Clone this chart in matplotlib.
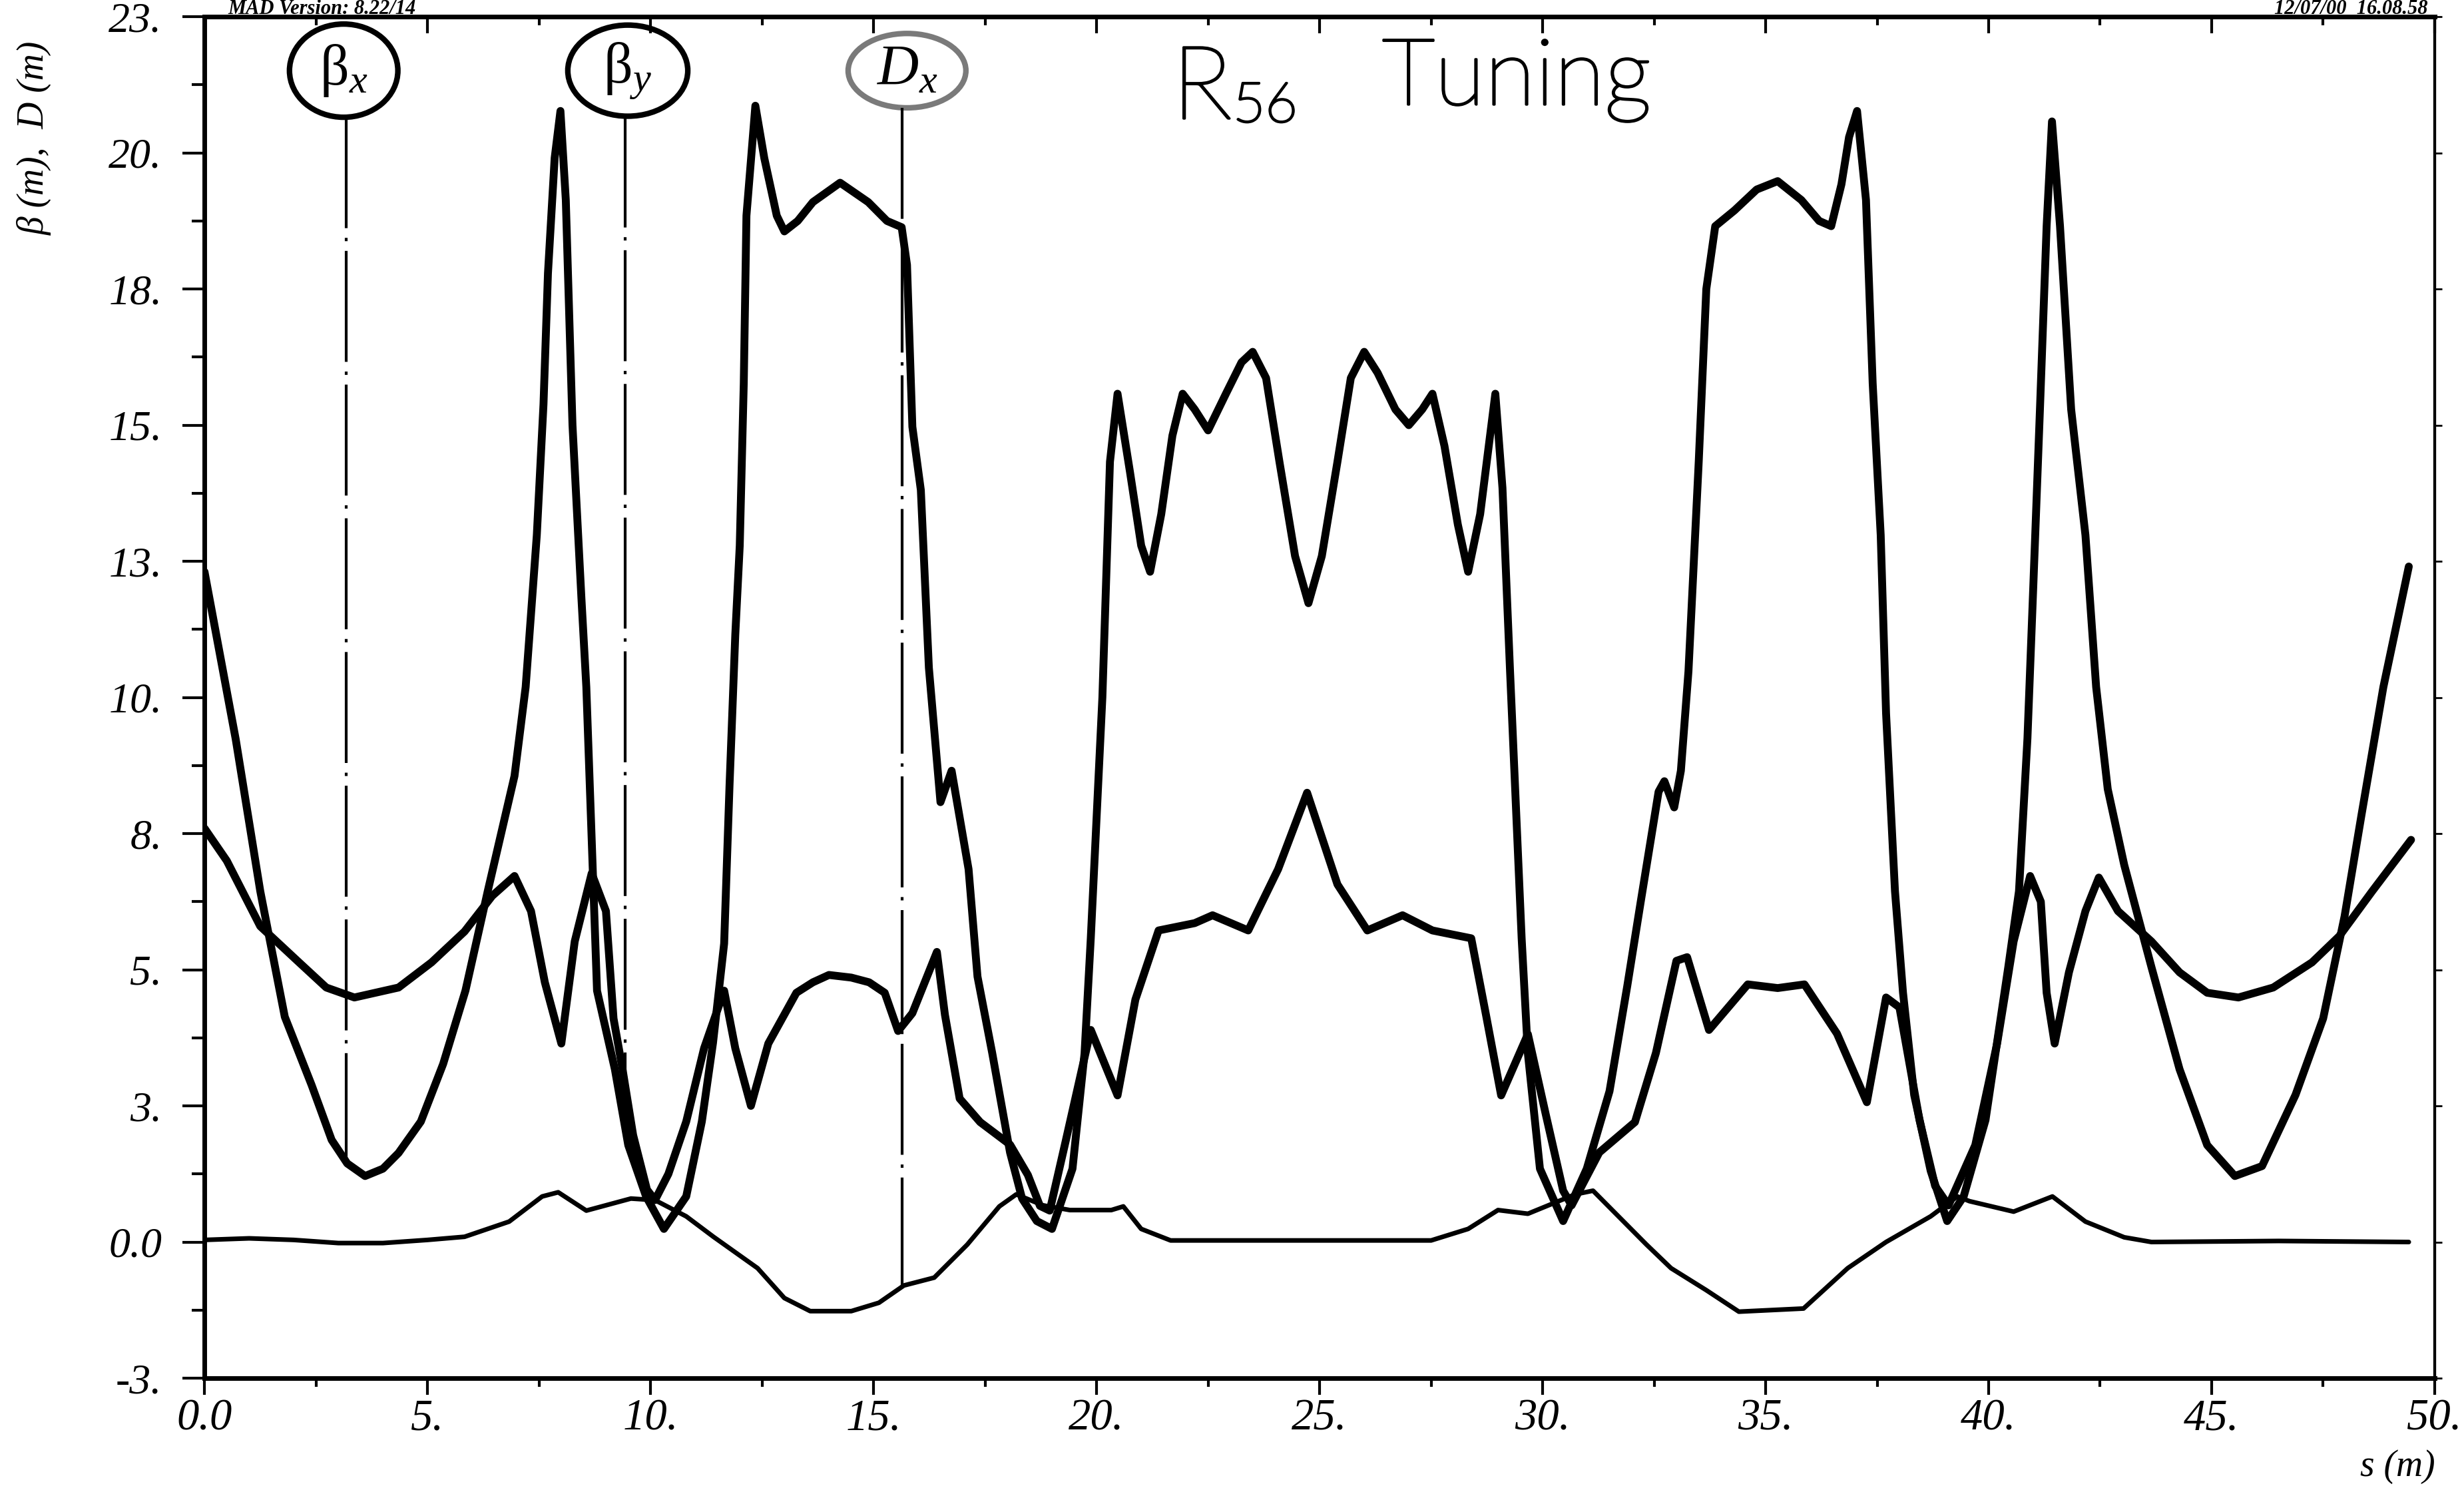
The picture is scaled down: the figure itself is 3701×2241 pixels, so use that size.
import matplotlib.pyplot as plt
from matplotlib.patches import Ellipse
import matplotlib.patheffects as pe
import numpy as np

plt.rcParams['font.family'] = ['Liberation Serif', 'DejaVu Serif']
plt.rcParams['mathtext.fontset'] = 'custom'
plt.rcParams['mathtext.rm'] = 'Liberation Serif'
plt.rcParams['mathtext.it'] = 'Liberation Serif:italic'

# beta_x (m)
betaxS = [0.0, 0.35, 0.7, 1.25, 1.8, 2.4, 2.85, 3.2, 3.6, 4.0, 4.35, 4.85, 5.35, 5.85, 6.35, 6.95, 7.2, 7.45,
          7.6, 7.7, 7.85, 7.98, 8.1, 8.25, 8.45, 8.56, 8.7, 8.8, 9.2, 9.5, 9.9, 10.3, 10.8, 11.15, 11.4, 11.65,
          11.77, 11.9, 12.0, 12.09, 12.15, 12.35, 12.55, 12.83, 13.0, 13.3, 13.64, 14.25, 14.88, 15.3, 15.63,
          15.75, 15.87, 16.06, 16.24, 16.5, 16.75, 17.13, 17.33, 17.66, 18.06, 18.33, 18.66, 19.0, 19.46, 19.73,
          19.87, 20.13, 20.3, 20.47, 20.75, 21.0, 21.2, 21.45, 21.7, 21.93, 22.2, 22.5, 22.9, 23.25, 23.5, 23.8,
          24.1, 24.45, 24.75, 25.05, 25.4, 25.7, 26.0, 26.3, 26.7, 27.0, 27.3, 27.53, 27.8, 28.1, 28.33, 28.6,
          28.94, 29.1, 29.27, 29.53, 29.67, 29.94, 30.46, 30.99, 31.5, 31.9, 32.2, 32.6, 32.73, 32.95, 33.1,
          33.27, 33.5, 33.67, 33.87, 34.3, 34.8, 35.27, 35.8, 36.2, 36.47, 36.7, 36.87, 37.05, 37.25, 37.4,
          37.58, 37.7, 37.9, 38.08, 38.33, 38.7, 39.07, 39.44, 39.93, 40.44, 40.68, 40.87, 41.0, 41.15, 41.3,
          41.42, 41.6, 41.85, 42.17, 42.41, 42.67, 43.04, 43.65, 44.28, 44.9, 45.52, 46.13, 46.88, 47.5, 47.98,
          48.36, 48.85, 49.42]
betaxV = [12.4, 10.8, 9.2, 6.3, 3.9, 2.6, 1.55, 1.1, 0.86, 1.0, 1.3, 1.9, 3.0, 4.4, 6.3, 8.5, 10.2, 13.1,
          15.6, 18.1, 20.3, 21.2, 19.5, 15.2, 11.9, 10.2, 6.8, 4.4, 2.9, 1.45, 0.47, -0.15, 0.47, 1.9, 3.4, 5.3,
          8.3, 11.2, 12.9, 16.0, 19.2, 21.3, 20.3, 19.2, 18.9, 19.1, 19.46, 19.83, 19.46, 19.1, 18.98,
          18.26, 15.17, 13.96, 10.57, 8.0, 8.6, 6.72, 4.67, 3.21, 1.31, 0.43, 0.0, -0.15, 1.0, 3.2,
          5.4, 10.0, 14.5, 15.8, 14.3, 12.9, 12.4, 13.5, 15.0, 15.8, 15.5, 15.1, 15.8, 16.4, 16.6, 16.1,
          14.5, 12.7, 11.8, 12.7, 14.5, 16.1, 16.6, 16.2, 15.5, 15.2, 15.5, 15.8, 14.8, 13.3, 12.4, 13.5,
          15.8, 14.0, 10.5, 5.4, 3.2, 1.0, 0.0, 1.0, 2.48, 4.5, 6.1, 8.2, 8.4, 7.9, 8.6,
          10.5, 14.5, 17.8, 19.0, 19.3, 19.7, 19.86, 19.5, 19.1, 19.0, 19.8, 20.7, 21.2, 19.5, 16.0,
          13.1, 9.7, 6.3, 4.36, 2.41, 0.96, 0.0, 0.47, 1.93, 4.85, 6.3, 9.22, 12.1, 15.5, 19.0,
          21.0, 19.0, 15.5, 13.1, 10.2, 8.25, 6.8, 4.85, 2.9, 1.45, 0.86, 1.05, 2.41, 3.87, 5.82,
          7.76, 10.2, 12.5]

# beta_y (m)
betayS = [0.0, 0.5, 1.25, 2.12, 2.73, 3.36, 4.35, 5.09, 5.83, 6.45, 6.95, 7.32, 7.63, 8.0, 8.3, 8.68, 9.0,
          9.17, 9.37, 9.61, 9.92, 10.1, 10.4, 10.8, 11.2, 11.65, 11.9, 12.25, 12.64, 13.27, 13.64, 14.0, 14.5,
          14.9, 15.25, 15.55, 15.87, 16.42, 16.6, 16.93, 17.39, 18.06, 18.46, 18.73, 18.95, 19.3, 19.87, 20.47,
          20.87, 21.39, 22.2, 22.6, 23.4, 24.07, 24.72, 25.4, 26.07, 26.86, 27.53, 28.4, 28.73, 29.07, 29.67,
          30.07, 30.46, 30.65, 31.27, 32.07, 32.54, 33.0, 33.24, 33.73, 34.6, 35.27, 35.87, 36.6, 37.27, 37.7,
          38.0, 38.45, 38.8, 39.1, 39.7, 40.19, 40.56, 40.93, 41.17, 41.3, 41.48, 41.8, 42.17, 42.47, 42.9,
          43.65, 44.28, 44.9, 45.6, 46.38, 47.25, 47.86, 48.6, 49.47]
betayV = [7.5, 6.88, 5.63, 4.94, 4.46, 4.27, 4.46, 4.94, 5.53, 6.21, 6.59, 5.92, 4.56, 3.39, 5.34, 6.64, 5.92,
          3.87, 2.91, 1.64, 0.6, 0.4, 0.9, 1.9, 3.3, 4.4, 3.3, 2.2, 3.39, 4.36, 4.56, 4.7, 4.65,
          4.56, 4.36, 3.63, 3.97, 5.14, 3.94, 2.34, 1.89, 1.46, 0.88, 0.29, 0.2, 1.5, 3.65, 2.4,
          4.23, 5.55, 5.69, 5.84, 5.55, 6.72, 8.18, 6.43, 5.55, 5.84, 5.55, 5.4, 3.94, 2.4, 3.57,
          2.04, 0.58, 0.3, 1.31, 1.89, 3.21, 4.97, 5.04, 3.65, 4.52, 4.45, 4.52, 3.58, 2.27, 4.27,
          4.08, 1.93, 0.67, 0.3, 1.45, 3.39, 5.34, 6.59, 6.1, 4.36, 3.39, 4.75, 5.92, 6.56, 5.92,
          5.34, 4.75, 4.36, 4.27, 4.46, 4.94, 5.44, 6.3, 7.28]

# D_x (m)
dxS = [0.0, 1.0, 2.0, 3.0, 4.0, 5.0, 5.83, 6.83, 7.57, 7.93, 8.56, 9.56, 10.1, 10.8, 11.41, 12.4, 13.0, 13.58,
       14.5, 15.12, 15.68, 16.36, 17.1, 17.82, 18.2, 18.8, 19.4, 20.33, 20.6, 21.0, 21.66, 24.7, 27.5, 28.33,
       29.0, 29.67, 30.73, 31.13, 32.33, 32.88, 33.67, 34.4, 35.85, 36.84, 37.7, 38.7, 39.3, 39.57, 40.56,
       41.43, 42.17, 43.04, 43.65, 46.5, 49.42]
dxV = [-0.36, -0.33, -0.36, -0.42, -0.42, -0.36, -0.3, -0.01, 0.47, 0.55, 0.2, 0.43, 0.4, 0.09, -0.3, -0.9, -1.47,
       -1.72, -1.72, -1.56, -1.23, -1.08, -0.45, 0.28, 0.51, 0.3, 0.21, 0.21, 0.28, -0.15, -0.37, -0.37, -0.37,
       -0.15, 0.21, 0.14, 0.51, 0.58, -0.45, -0.9, -1.32, -1.73, -1.67, -0.9, -0.4, 0.09, 0.47, 0.38, 0.18,
       0.47, -0.01, -0.31, -0.4, -0.38, -0.4]

yTicks = np.linspace(-3, 23, 11)
yTickLabels = ['-3.', '0.0', '3.', '5.', '8.', '10.', '13.', '15.', '18.', '20.', '23.']
xTicks = np.arange(0, 51, 5)
xTickLabels = ['0.0', '5.', '10.', '15.', '20.', '25.', '30.', '35.', '40.', '45.', '50.']

# hand-drawn labels: text, pointer position, circle centre / size, colour
labelText = ['β$_x$', 'β$_y$', '$D_x$']
labelS = [3.18, 9.43, 15.64]
circleS = [3.12, 9.49, 15.75]
circleW = [2.43, 2.69, 2.64]
circleH = [1.78, 1.74, 1.42]
circleColor = ['black', 'black', '#7a7a7a']
circleV = 21.97

fig = plt.figure(figsize=(37.01, 22.41), dpi=100)
ax = fig.add_axes([0.083, 0.0763, 0.9051, 0.9125])

ax.plot(betaxS, betaxV, color='black', lw=8.5, solid_joinstyle='round', solid_capstyle='round')
ax.plot(betayS, betayV, color='black', lw=8.5, solid_joinstyle='round', solid_capstyle='round')
ax.plot(dxS, dxV, color='black', lw=5, solid_joinstyle='round', solid_capstyle='round')

curves = [(betaxS, betaxV), (betayS, betayV), (dxS, dxV)]
for i, name in enumerate(labelText):
    ax.add_patch(Ellipse((circleS[i], circleV), circleW[i], circleH[i], fill=False,
                         lw=6, color=circleColor[i]))
    ax.text(circleS[i], circleV, name, ha='center', va='center', fontsize=62, color='black')
    yEnd = np.interp(labelS[i], curves[i][0], curves[i][1])
    ax.plot([labelS[i], labelS[i]], [circleV - circleH[i] / 2, yEnd], color='black', lw=3,
            dashes=(40, 3.5, 1.2, 3.5))

ax.set_xlim(0, 50)
ax.set_ylim(-3, 23)
ax.set_xticks(xTicks)
ax.set_xticklabels(xTickLabels, style='italic')
ax.set_xticks(np.arange(2.5, 50, 5), minor=True)
ax.set_yticks(yTicks)
ax.set_yticklabels(yTickLabels, style='italic')
ax.set_yticks(yTicks[:-1] + 1.3, minor=True)
ax.tick_params(axis='x', which='major', direction='out', length=18, width=3, labelsize=48, pad=4)
ax.tick_params(axis='x', which='minor', direction='out', length=9, width=3)
ax.tick_params(axis='y', which='major', direction='out', length=24, width=3, labelsize=46, pad=22)
ax.tick_params(axis='y', which='minor', direction='out', length=14, width=3)

for side in ['top', 'bottom', 'left']:
    ax.spines[side].set_linewidth(5)
ax.spines['right'].set_linewidth(3)

topAx = ax.secondary_xaxis('top')
topAx.set_xticks(xTicks)
topAx.set_xticks(np.arange(2.5, 50, 5), minor=True)
topAx.tick_params(which='major', direction='in', length=18, width=3, labeltop=False)
topAx.tick_params(which='minor', direction='in', length=9, width=3)
topAx.spines['top'].set_linewidth(5)

rightAx = ax.secondary_yaxis('right')
rightAx.set_yticks(yTicks)
rightAx.tick_params(direction='out', length=8, width=2, labelright=False)
rightAx.spines['right'].set_linewidth(3)

fig.text(52 / 3701, 1 - 207 / 2241, 'β (m),  D (m)', rotation=90, ha='center', va='center',
         fontsize=40, style='italic')
fig.text(3658 / 3701, 1 - 2203 / 2241, 's (m)', ha='right', va='center', fontsize=40, style='italic')

# header line above the frame
fig.text(342 / 3701, 1 - 21 / 2241, 'MAD Version: 8.22/14', fontsize=22, weight='bold',
         style='italic', va='baseline')
fig.text(3647 / 3701, 1 - 21 / 2241, '12/07/00  16.08.58', fontsize=22, weight='bold',
         style='italic', va='baseline', ha='right')

# handwritten title, thin pen strokes
pen = [pe.withStroke(linewidth=2.5, foreground='black')]
fig.text(1760 / 3701, 1 - 178 / 2241, 'R', fontsize=110, family='Lato', weight='light', path_effects=pen)
fig.text(1852 / 3701, 1 - 183 / 2241, '56', fontsize=60, family='Lato', weight='light', path_effects=pen)
fig.text(2076 / 3701, 1 - 157 / 2241, 'Tuning', fontsize=100, family='Lato', weight='light', path_effects=pen)

fig.savefig('out.png', dpi=100)
